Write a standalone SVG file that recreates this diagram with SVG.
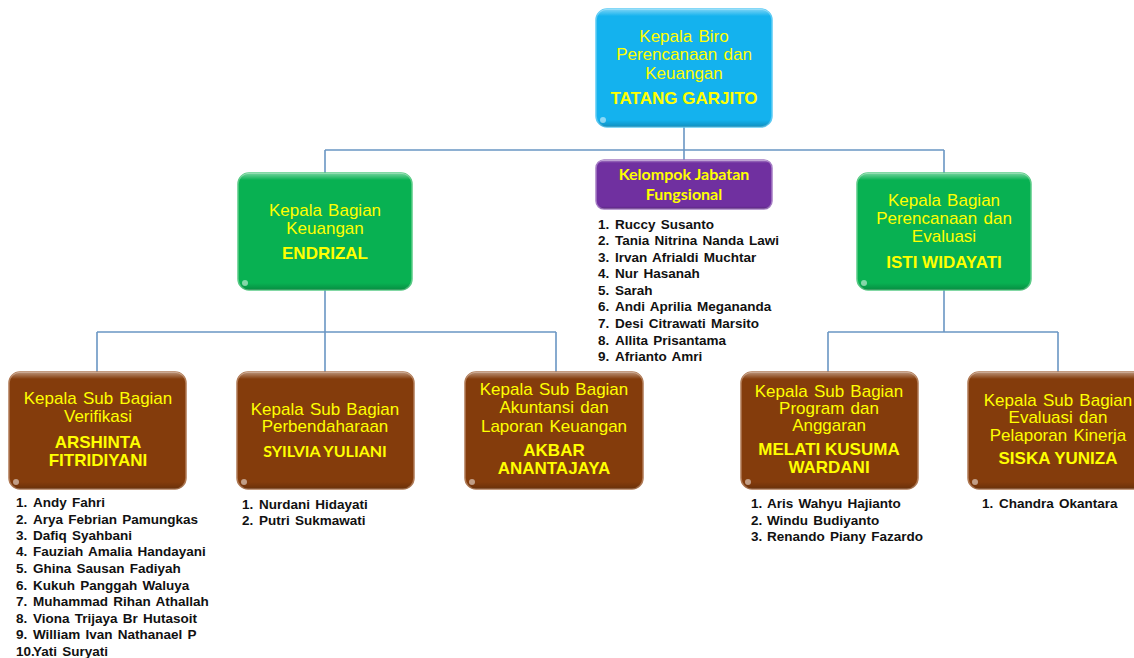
<svg xmlns="http://www.w3.org/2000/svg" width="1134" height="658" viewBox="0 0 1134 658">
<defs>
<linearGradient id="gl" x1="0" y1="0" x2="0" y2="1">
<stop offset="0" stop-color="#fff" stop-opacity="0.45"/>
<stop offset="0.06" stop-color="#fff" stop-opacity="0"/>
<stop offset="0.94" stop-color="#000" stop-opacity="0"/>
<stop offset="1" stop-color="#000" stop-opacity="0.2"/>
</linearGradient>
</defs>
<style>
.box{stroke-width:1.5}
.cyan{fill:#14B2EE;stroke:#5CCBF5}
.green{fill:#08B152;stroke:#5ACB86}
.purple{fill:#7030A0;stroke:#A57CC4}
.brown{fill:#843C0C;stroke:#B07A55}
.gl{fill:url(#gl);stroke:none}
.dot{fill:#fff;fill-opacity:0.5}
.t{font-family:"Liberation Sans",Arial,sans-serif;font-size:17px;fill:#FFFF00;text-anchor:middle;word-spacing:1.5px}
.b{font-family:"Liberation Sans",Arial,sans-serif;font-size:17px;font-weight:bold;fill:#FFFF00;text-anchor:middle}
.c{font-family:Lato,"Open Sans",sans-serif;font-size:16px;font-weight:bold;fill:#FFFF00;text-anchor:middle}
.l{font-family:"Liberation Sans",Arial,sans-serif;font-size:13.5px;font-weight:bold;fill:#111;word-spacing:1.5px}
.con{fill:none;stroke:#6A96C4;stroke-width:1.6}
</style>
<g id="connectors">
<path class="con" d="M684,127 V160 M325,150 H944 M325,150 V173 M944,150 V173"/>
<path class="con" d="M325,290 V372 M97,332 H556 M97,332 V372 M556,332 V372"/>
<path class="con" d="M944,290 V332 M828,332 H1058 M828,332 V372 M1058,332 V372"/>
</g>
<g id="n-top">
<rect class="box cyan" x="596" y="9" width="176" height="118" rx="11"/>
<rect class="gl" x="596" y="9" width="176" height="118" rx="11"/>
<circle class="dot" cx="603" cy="120" r="3"/>
<text class="t" x="684" y="42">Kepala Biro</text>
<text class="t" x="684" y="60">Perencanaan dan</text>
<text class="t" x="684" y="79">Keuangan</text>
<text class="b" x="684" y="104">TATANG GARJITO</text>
</g>
<g id="n-keuangan">
<rect class="box green" x="238" y="173" width="174" height="117" rx="11"/>
<rect class="gl" x="238" y="173" width="174" height="117" rx="11"/>
<circle class="dot" cx="245" cy="283" r="3"/>
<text class="t" x="325" y="216">Kepala Bagian</text>
<text class="t" x="325" y="234">Keuangan</text>
<text class="b" x="325" y="259">ENDRIZAL</text>
</g>
<g id="n-fungsional">
<rect class="box purple" x="596" y="160" width="176" height="49" rx="8"/>
<rect class="gl" x="596" y="160" width="176" height="49" rx="8"/>
<text class="c" x="684" y="180">Kelompok Jabatan</text>
<text class="c" x="684" y="200">Fungsional</text>
<g class="l">
<text x="598" y="229">1.</text><text x="615" y="229">Ruccy Susanto</text>
<text x="598" y="245">2.</text><text x="615" y="245">Tania Nitrina Nanda Lawi</text>
<text x="598" y="262">3.</text><text x="615" y="262">Irvan Afrialdi Muchtar</text>
<text x="598" y="278">4.</text><text x="615" y="278">Nur Hasanah</text>
<text x="598" y="295">5.</text><text x="615" y="295">Sarah</text>
<text x="598" y="311">6.</text><text x="615" y="311">Andi Aprilia Megananda</text>
<text x="598" y="328">7.</text><text x="615" y="328">Desi Citrawati Marsito</text>
<text x="598" y="345">8.</text><text x="615" y="345">Allita Prisantama</text>
<text x="598" y="361">9.</text><text x="615" y="361">Afrianto Amri</text>
</g>
</g>
<g id="n-perencanaan">
<rect class="box green" x="857" y="173" width="174" height="117" rx="11"/>
<rect class="gl" x="857" y="173" width="174" height="117" rx="11"/>
<circle class="dot" cx="864" cy="283" r="3"/>
<text class="t" x="944" y="206">Kepala Bagian</text>
<text class="t" x="944" y="224">Perencanaan dan</text>
<text class="t" x="944" y="242">Evaluasi</text>
<text class="b" x="944" y="268">ISTI WIDAYATI</text>
</g>
<g id="n-verifikasi">
<rect class="box brown" x="9" y="372" width="177" height="117" rx="11"/>
<rect class="gl" x="9" y="372" width="177" height="117" rx="11"/>
<circle class="dot" cx="16" cy="482" r="3"/>
<text class="t" x="98" y="404">Kepala Sub Bagian</text>
<text class="t" x="98" y="422">Verifikasi</text>
<text class="b" x="98" y="448">ARSHINTA</text>
<text class="b" x="98" y="466">FITRIDIYANI</text>
<g class="l">
<text x="16" y="507">1.</text><text x="33" y="507">Andy Fahri</text>
<text x="16" y="524">2.</text><text x="33" y="524">Arya Febrian Pamungkas</text>
<text x="16" y="540">3.</text><text x="33" y="540">Dafiq Syahbani</text>
<text x="16" y="556">4.</text><text x="33" y="556">Fauziah Amalia Handayani</text>
<text x="16" y="573">5.</text><text x="33" y="573">Ghina Sausan Fadiyah</text>
<text x="16" y="590">6.</text><text x="33" y="590">Kukuh Panggah Waluya</text>
<text x="16" y="606">7.</text><text x="33" y="606">Muhammad Rihan Athallah</text>
<text x="16" y="623">8.</text><text x="33" y="623">Viona Trijaya Br Hutasoit</text>
<text x="16" y="639">9.</text><text x="33" y="639">William Ivan Nathanael P</text>
<text x="16" y="656">10.</text><text x="33" y="656">Yati Suryati</text>
</g>
</g>
<g id="n-perbendaharaan">
<rect class="box brown" x="237" y="372" width="177" height="117" rx="11"/>
<rect class="gl" x="237" y="372" width="177" height="117" rx="11"/>
<circle class="dot" cx="244" cy="482" r="3"/>
<text class="t" x="325" y="415">Kepala Sub Bagian</text>
<text class="t" x="325" y="432">Perbendaharaan</text>
<text class="c" x="325" y="457">SYILVIA YULIANI</text>
<g class="l">
<text x="242" y="509">1.</text><text x="259" y="509">Nurdani Hidayati</text>
<text x="242" y="525">2.</text><text x="259" y="525">Putri Sukmawati</text>
</g>
</g>
<g id="n-akuntansi">
<rect class="box brown" x="465" y="372" width="178" height="117" rx="11"/>
<rect class="gl" x="465" y="372" width="178" height="117" rx="11"/>
<circle class="dot" cx="472" cy="482" r="3"/>
<text class="t" x="554" y="395">Kepala Sub Bagian</text>
<text class="t" x="554" y="413">Akuntansi dan</text>
<text class="t" x="554" y="432">Laporan Keuangan</text>
<text class="b" x="554" y="456">AKBAR</text>
<text class="b" x="554" y="474">ANANTAJAYA</text>
</g>
<g id="n-program">
<rect class="box brown" x="741" y="372" width="177" height="117" rx="11"/>
<rect class="gl" x="741" y="372" width="177" height="117" rx="11"/>
<circle class="dot" cx="748" cy="482" r="3"/>
<text class="t" x="829" y="397">Kepala Sub Bagian</text>
<text class="t" x="829" y="414">Program dan</text>
<text class="t" x="829" y="431">Anggaran</text>
<text class="b" x="829" y="455">MELATI KUSUMA</text>
<text class="b" x="829" y="473">WARDANI</text>
<g class="l">
<text x="751" y="508">1.</text><text x="767" y="508">Aris Wahyu Hajianto</text>
<text x="751" y="525">2.</text><text x="767" y="525">Windu Budiyanto</text>
<text x="751" y="541">3.</text><text x="767" y="541">Renando Piany Fazardo</text>
</g>
</g>
<g id="n-evaluasi">
<rect class="box brown" x="968" y="372" width="180" height="117" rx="11"/>
<rect class="gl" x="968" y="372" width="180" height="117" rx="11"/>
<circle class="dot" cx="975" cy="482" r="3"/>
<text class="t" x="1058" y="406">Kepala Sub Bagian</text>
<text class="t" x="1058" y="423">Evaluasi dan</text>
<text class="t" x="1058" y="441">Pelaporan  Kinerja</text>
<text class="b" x="1058" y="464">SISKA YUNIZA</text>
<g class="l">
<text x="982" y="508">1.</text><text x="999" y="508">Chandra Okantara</text>
</g>
</g>
</svg>
